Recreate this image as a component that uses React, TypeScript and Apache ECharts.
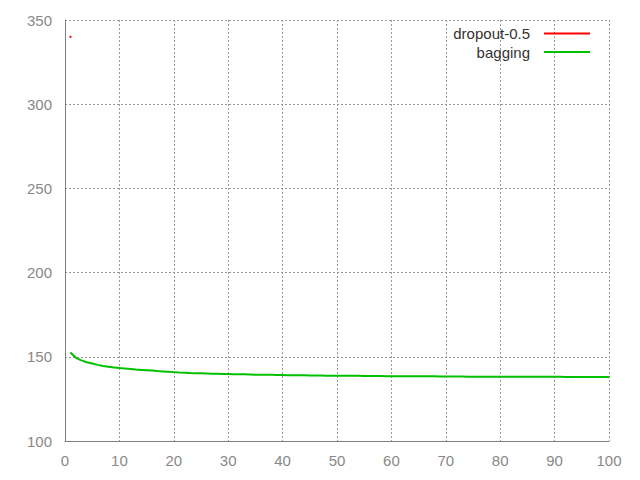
import React, { useEffect, useRef } from "react";
import * as echarts from "echarts";

const epochs: number[] = Array.from({ length: 100 }, (_, i) => i + 1);

const dropoutValues: [number, number][] = [[1, 340]];

const baggingValues: number[] = [
  152.6, 149.4, 147.9, 146.8, 146.0, 145.2, 144.6, 144.1, 143.7, 143.3,
  143.0, 142.7, 142.4, 142.2, 142.0, 141.8, 141.5, 141.3, 141.1, 140.9,
  140.7, 140.6, 140.4, 140.3, 140.2, 140.1, 140.0, 139.9, 139.8, 139.8,
  139.7, 139.6, 139.6, 139.5, 139.4, 139.4, 139.3, 139.3, 139.2, 139.2,
  139.1, 139.1, 139.0, 139.0, 138.9, 138.9, 138.9, 138.8, 138.8, 138.8,
  138.7, 138.7, 138.7, 138.7, 138.6, 138.6, 138.6, 138.6, 138.5, 138.5,
  138.5, 138.5, 138.5, 138.4, 138.4, 138.4, 138.4, 138.4, 138.3, 138.3,
  138.3, 138.3, 138.3, 138.2, 138.2, 138.2, 138.2, 138.2, 138.2, 138.2,
  138.1, 138.1, 138.1, 138.1, 138.1, 138.1, 138.1, 138.1, 138.1, 138.1,
  138.1, 138.0, 138.0, 138.0, 138.0, 138.0, 138.0, 138.0, 138.0, 138.0,
];

const seriesNames = ["dropout-0.5", "bagging"];

export default function App() {
  const ref = useRef<HTMLDivElement>(null);
  useEffect(() => {
    if (!ref.current) return;
    const chart = echarts.init(ref.current, undefined, { renderer: "svg" });
    const font = "'Liberation Sans', Arial, sans-serif";
    chart.setOption({
      animation: false,
      backgroundColor: "#ffffff",
      grid: { left: 65, right: 31, top: 20, bottom: 39, containLabel: false },
      legend: {
        data: seriesNames,
        orient: "vertical",
        right: 45,
        top: 21,
        align: "right",
        icon: "rect",
        itemWidth: 46,
        itemHeight: 2,
        itemGap: 3.5,
        textStyle: {
          fontFamily: font,
          fontSize: 15,
          color: "#333",
          padding: [0, 9, 0, 0],
          lineHeight: 14,
        },
      },
      xAxis: {
        type: "value",
        min: 0,
        max: 100,
        interval: 10,
        axisLine: { show: true, lineStyle: { color: "#808080", width: 1 } },
        axisTick: { show: false },
        axisLabel: { color: "#888", fontFamily: font, fontSize: 15, margin: 12 },
        splitLine: {
          show: true,
          lineStyle: { color: "#999", type: [2, 2], width: 1 },
        },
      },
      yAxis: {
        type: "value",
        min: 100,
        max: 350,
        interval: 50,
        axisLine: { show: true, lineStyle: { color: "#808080", width: 1 } },
        axisTick: { show: false },
        axisLabel: { color: "#888", fontFamily: font, fontSize: 15, margin: 13 },
        splitLine: {
          show: true,
          lineStyle: { color: "#999", type: [2, 2], width: 1 },
        },
      },
      series: [
        {
          name: seriesNames[0],
          type: "line",
          data: dropoutValues,
          color: "#ff0000",
          showSymbol: true,
          symbol: "rect",
          symbolSize: 2,
          lineStyle: { width: 2, color: "#ff0000" },
          itemStyle: { color: "#ff0000" },
        },
        {
          name: seriesNames[1],
          type: "line",
          data: epochs.map((e, i) => [e, baggingValues[i]]),
          color: "#00c000",
          showSymbol: false,
          symbol: "none",
          lineStyle: { width: 2, color: "#00c000" },
          itemStyle: { color: "#00c000" },
        },
      ],
    });
    return () => chart.dispose();
  }, []);
  return (
    <div
      ref={ref}
      style={{ position: "fixed", left: 0, top: 0, width: 640, height: 480 }}
    />
  );
}
